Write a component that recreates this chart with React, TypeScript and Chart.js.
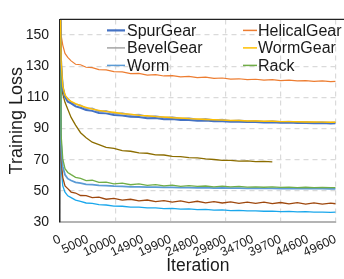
import { useEffect, useRef } from "react";
import { Chart, registerables } from "chart.js";

Chart.register(...registerables);

const iterations = [0, 200, 500, 900, 1400, 2000, 2800, 3700, 4700, 5800, 7000, 8300, 9700, 11200, 12700, 14200, 15700, 17200, 18700, 20200, 21700, 23200, 24700, 26200, 27700, 29200, 30700, 32200, 33700, 35200, 36700, 38200, 39700, 41200, 42700, 44200, 45700, 47200, 48700, 49600];

const spurGear = [185, 130, 115.5, 110.3, 107.2, 106.1, 104.2, 103.3, 101.8, 101.3, 100.0, 99.7, 98.6, 98.4, 97.5, 97.4, 96.6, 96.7, 96.0, 96.1, 95.5, 95.5, 95.0, 95.1, 94.6, 94.7, 94.3, 94.4, 94.1, 94.2, 93.9, 94.0, 93.7, 93.8, 93.5, 93.6, 93.4, 93.5, 93.2, 93.3];
const helicalGear = [178, 150, 143.5, 138.2, 135.6, 133.4, 131.2, 130.9, 129.3, 129.1, 127.8, 127.6, 126.5, 126.3, 125.2, 125.4, 124.3, 124.6, 123.7, 123.9, 123.1, 123.4, 122.6, 122.9, 122.1, 122.4, 121.7, 121.9, 121.3, 121.6, 121.0, 121.3, 120.7, 121.0, 120.5, 120.7, 120.2, 120.5, 120.1, 120.2];
const bevelGear = [190, 135, 117.5, 111.0, 109.3, 106.8, 105.6, 104.9, 102.8, 102.9, 101.0, 101.3, 99.6, 99.9, 98.6, 98.9, 97.7, 98.0, 97.0, 97.3, 96.4, 96.7, 95.8, 96.2, 95.4, 95.7, 95.0, 95.3, 94.7, 95.0, 94.5, 94.7, 94.3, 94.5, 94.1, 94.3, 94.0, 94.1, 93.8, 93.9];
const wormGear = [188, 133, 116.8, 111.5, 108.9, 107.4, 106.0, 104.6, 103.6, 102.4, 101.6, 100.8, 100.4, 99.5, 99.2, 98.4, 98.2, 97.6, 97.4, 96.9, 96.7, 96.3, 96.1, 95.8, 95.6, 95.4, 95.1, 95.1, 94.8, 94.8, 94.6, 94.6, 94.4, 94.4, 94.3, 94.2, 94.2, 94.1, 94.0, 94.0];
const worm = [190, 80, 65.5, 60.3, 57.8, 56.6, 55.4, 54.9, 54.2, 54.0, 53.5, 53.3, 53.0, 52.9, 52.6, 52.6, 52.4, 52.4, 52.2, 52.2, 52.0, 52.1, 51.9, 52.0, 51.8, 51.9, 51.7, 51.8, 51.6, 51.7, 51.6, 51.6, 51.5, 51.6, 51.4, 51.5, 51.4, 51.4, 51.3, 51.3];
const rack = [200, 86, 70.5, 64.2, 61.8, 60.4, 58.7, 58.0, 56.6, 56.8, 55.4, 55.6, 54.5, 54.9, 53.9, 54.4, 53.5, 54.0, 53.2, 53.7, 52.9, 53.3, 52.8, 53.1, 52.6, 53.0, 52.5, 52.8, 52.4, 52.6, 52.3, 52.5, 52.2, 52.4, 52.1, 52.3, 52.0, 52.2, 52.0, 52.1];
const brownSeries = [190, 70, 58.5, 53.2, 51.4, 49.2, 48.6, 47.0, 46.9, 45.7, 45.9, 44.6, 45.2, 44.0, 44.6, 43.5, 44.1, 43.1, 43.7, 42.7, 43.6, 42.5, 43.3, 42.3, 43.1, 42.2, 42.9, 42.0, 42.8, 41.9, 42.7, 41.8, 42.5, 41.6, 42.4, 41.5, 42.3, 41.5, 42.1, 41.7];
const cyanSeries = [185, 65, 53.2, 49.1, 46.8, 45.6, 44.0, 43.3, 42.2, 41.9, 41.1, 40.9, 40.2, 40.1, 39.5, 39.5, 39.0, 39.1, 38.6, 38.7, 38.2, 38.4, 37.9, 38.1, 37.6, 37.8, 37.3, 37.5, 37.1, 37.2, 36.9, 37.0, 36.7, 36.8, 36.5, 36.6, 36.4, 36.4, 36.2, 36.3];
const oliveSeries = [165, 118, 112, 106.8, 102.3, 97.1, 92.2, 87.3, 84.1, 81.2, 79.7, 77.9, 77.2, 75.8, 75.4, 74.3, 74.1, 73.1, 73.0, 72.1, 72.0, 71.3, 71.2, 70.5, 70.1, 69.5, 69.6, 69.0, 69.2, 68.8, 68.9, 68.6];

const xTickValues = [0, 5000, 10000, 14900, 19900, 24800, 29800, 34700, 39700, 44600, 49600];
const yTickValues = [30, 50, 70, 90, 110, 130, 150];

const legendNames = ["SpurGear", "HelicalGear", "BevelGear", "WormGear", "Worm", "Rack"];
const legendColors = ["#4472C4", "#ED7D31", "#A5A5A5", "#FFC000", "#5B9BD5", "#70AD47"];

const FONT = "'Liberation Sans', Arial, sans-serif";

const toPoints = (vals: number[]) => vals.map((y, i) => ({ x: iterations[i], y }));

const legendPlugin = {
  id: "customLegend",
  afterDatasetsDraw(chart: any) {
    const { ctx, chartArea } = chart;
    const L = chartArea.left;
    const T = chartArea.top;
    ctx.save();
    ctx.font = `16px ${FONT}`;
    ctx.textBaseline = "middle";
    ctx.textAlign = "left";
    legendNames.forEach((name: string, i: number) => {
      const col = i % 2;
      const row = Math.floor(i / 2);
      const y = T + 11 + row * 17.5;
      const x0 = col === 0 ? L + 47 : L + 183;
      const x1 = col === 0 ? L + 65 : L + 197;
      const tx = col === 0 ? L + 67 : L + 198;
      ctx.strokeStyle = legendColors[i];
      ctx.lineWidth = i === 0 ? 2.2 : 1.5;
      ctx.beginPath();
      ctx.moveTo(x0, y);
      ctx.lineTo(x1, y);
      ctx.stroke();
      ctx.fillStyle = "#1a1a1a";
      ctx.fillText(name, tx, y + 1);
    });
    ctx.strokeStyle = "#222";
    ctx.lineWidth = 1.3;
    ctx.beginPath();
    ctx.moveTo(chartArea.left, chartArea.top);
    ctx.lineTo(chartArea.right + 10, chartArea.top);
    ctx.stroke();
    ctx.restore();
  },
};

export default function App() {
  const ref = useRef<HTMLCanvasElement | null>(null);
  useEffect(() => {
    if (!ref.current) return;
    const mk = (label: string, vals: number[], color: string, width = 1.2) => ({
      label,
      data: toPoints(vals),
      borderColor: color,
      backgroundColor: color,
      borderWidth: width,
      pointRadius: 0,
      tension: 0,
      fill: false,
    });
    const chart = new Chart(ref.current, {
      type: "line",
      data: {
        datasets: [
          mk("WormGear", wormGear, "#FFC000", 1.4),
          mk("SpurGear", spurGear, "#4472C4", 2),
          mk("BevelGear", bevelGear, "#A5A5A5", 1.6),
          mk("HelicalGear", helicalGear, "#ED7D31", 1.2),
          mk("Rack", rack, "#70AD47", 1.3),
          mk("Worm", worm, "#5B9BD5", 1.8),
          mk("Series7", brownSeries, "#9E480E", 1.3),
          mk("Series8", cyanSeries, "#1AA7EC", 1.3),
          mk("Series9", oliveSeries, "#8C6D00", 1.3),
        ] as any,
      },
      options: {
        animation: false,
        responsive: false,
        maintainAspectRatio: false,
        layout: { padding: { top: 5, left: 0, right: 0, bottom: 2 } },
        plugins: { legend: { display: false }, tooltip: { enabled: false } },
        scales: {
          x: {
            type: "linear",
            min: 0,
            max: 49600,
            afterBuildTicks: (s: any) => {
              s.ticks = xTickValues.map((v) => ({ value: v }));
            },
            afterFit: (s: any) => {
              s.height = 55;
            },
            ticks: {
              autoSkip: false,
              minRotation: 25,
              maxRotation: 25,
              padding: 10,
              color: "#1a1a1a",
              font: { family: FONT, size: 12.5 },
              callback: (v: any) => String(v),
            },
            grid: {
              drawTicks: false,
              color: (c: any) => (c.index % 2 === 0 ? "#dadada" : "rgba(0,0,0,0)"),
              lineWidth: 1.2,
            },
            border: { color: "#b4b4b4", width: 2, dash: [5, 4] },
            title: {
              display: true,
              text: "Iteration",
              color: "#1a1a1a",
              font: { family: FONT, size: 17.5 },
              padding: { top: 0, bottom: 0 },
            },
          },
          y: {
            min: 30,
            max: 160,
            afterBuildTicks: (s: any) => {
              s.ticks = yTickValues.map((v) => ({ value: v }));
            },
            afterFit: (s: any) => {
              s.width = 60;
            },
            ticks: {
              padding: 11,
              color: "#1a1a1a",
              font: { family: FONT, size: 14 },
            },
            grid: { drawTicks: false, color: "#dadada", lineWidth: 1.2 },
            border: { color: "#222", width: 1.5, dash: [5, 4] },
            title: {
              display: true,
              text: "Training Loss",
              color: "#1a1a1a",
              font: { family: FONT, size: 18 },
              padding: { top: 6, bottom: 0 },
            },
          },
        },
      },
      plugins: [legendPlugin],
    } as any);
    return () => chart.destroy();
  }, []);
  return (
    <div style={{ position: "fixed", left: 0, top: 0, width: 344, height: 279, overflow: "hidden", background: "#fff" }}>
      <canvas ref={ref} width={352} height={279} style={{ display: "block" }} />
    </div>
  );
}
